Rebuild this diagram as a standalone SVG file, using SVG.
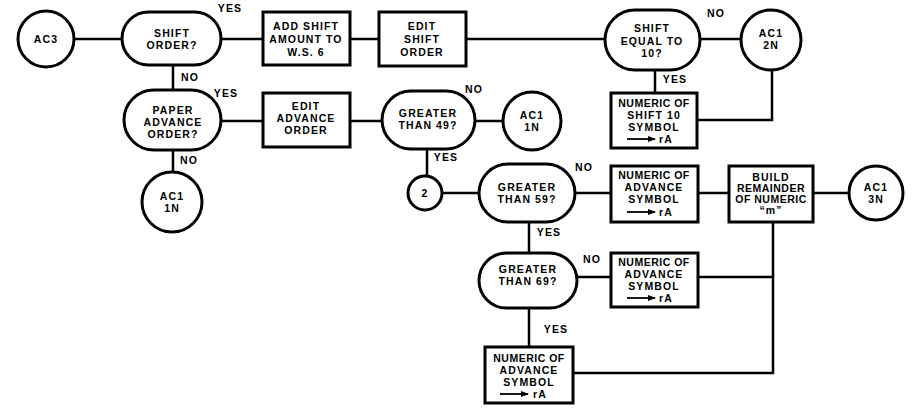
<svg xmlns="http://www.w3.org/2000/svg" width="920" height="409" viewBox="0 0 920 409">
<style>
.s{fill:#fff;stroke:#000;stroke-width:3}
.c{fill:none;stroke:#000;stroke-width:2.5}
text{font-family:"Liberation Sans",Arial,sans-serif;font-weight:700;font-size:10.5px;letter-spacing:1.1px;text-anchor:middle;dominant-baseline:central;fill:#000}
.n{letter-spacing:0.5px}
.ar{stroke:#000;stroke-width:1.8}
</style>
<defs>
<marker id="ah" markerWidth="8" markerHeight="6" refX="7" refY="3" orient="auto" markerUnits="userSpaceOnUse"><polygon points="0,0 8,3 0,6" fill="#000"/></marker>
</defs>
<rect width="920" height="409" fill="#fff"/>
<g id="connectors">
<path class="c" d="M74 39H122M221 39H263M350 39H379M466 39H605M700 39H741M655 70V93M697 120H772V70M173 65V90M173 150V172M221 121H263M350 121H382M475 121H503M427 149V176M442 193H479M575 193H611M698 193H729M813 193H849M529 222V253M577 277H611M529 308V347M698 277H773M773 222V373H573"/>
</g>
<g id="labels">
<text x="230" y="8">YES</text>
<text x="190" y="77">NO</text>
<text x="226" y="93">YES</text>
<text x="189" y="160">NO</text>
<text x="474" y="89">NO</text>
<text x="446" y="157">YES</text>
<text x="716" y="13">NO</text>
<text x="675" y="79">YES</text>
<text x="584" y="167">NO</text>
<text x="549" y="232">YES</text>
<text x="592" y="259">NO</text>
<text x="556" y="329">YES</text>
</g>
<g id="ac3"><circle class="s" cx="46" cy="39" r="28"/><text x="46" y="39">AC3</text></g>
<g id="shift-order"><rect class="s" x="122" y="12" width="99" height="53" rx="26.5"/><text x="172" y="33">SHIFT</text><text x="172" y="45">ORDER?</text></g>
<g id="add-shift"><rect class="s" x="263" y="12" width="87" height="53"/><text x="306" y="26">ADD SHIFT</text><text x="306" y="39">AMOUNT TO</text><text x="306" y="52">W.S. 6</text></g>
<g id="edit-shift"><rect class="s" x="379" y="12" width="87" height="54"/><text x="422" y="26">EDIT</text><text x="422" y="39">SHIFT</text><text x="422" y="52">ORDER</text></g>
<g id="shift-equal"><rect class="s" x="605" y="10" width="95" height="60" rx="30"/><text x="652" y="28">SHIFT</text><text x="652" y="41">EQUAL TO</text><text x="652" y="53">10?</text></g>
<g id="ac1-2n"><circle class="s" cx="771" cy="40" r="30"/><text x="771" y="33">AC1</text><text x="771" y="45">2N</text></g>
<g id="numeric-shift"><rect class="s" x="611" y="93" width="86" height="55"/><text class="n" x="654" y="103">NUMERIC OF</text><text x="654" y="115">SHIFT 10</text><text x="654" y="127">SYMBOL</text><line class="ar" x1="627" y1="139" x2="655" y2="139" marker-end="url(#ah)"/><text x="666" y="139">rA</text></g>
<g id="paper-advance"><rect class="s" x="124" y="90" width="97" height="60" rx="30"/><text x="173" y="110">PAPER</text><text x="173" y="122">ADVANCE</text><text x="173" y="134">ORDER?</text></g>
<g id="ac1-1n-a"><circle class="s" cx="172" cy="202" r="30"/><text x="172" y="196">AC1</text><text x="172" y="208">1N</text></g>
<g id="edit-advance"><rect class="s" x="263" y="93" width="87" height="54"/><text x="306" y="106">EDIT</text><text x="306" y="118">ADVANCE</text><text x="306" y="130">ORDER</text></g>
<g id="greater-49"><rect class="s" x="382" y="91" width="93" height="58" rx="29"/><text x="428" y="113">GREATER</text><text x="428" y="125">THAN 49?</text></g>
<g id="ac1-1n-b"><circle class="s" cx="532" cy="121" r="29"/><text x="532" y="115">AC1</text><text x="532" y="127">1N</text></g>
<g id="conn-2"><circle class="s" cx="425" cy="193" r="17"/><text x="425" y="193">2</text></g>
<g id="greater-59"><rect class="s" x="479" y="164" width="96" height="58" rx="29"/><text x="527" y="187">GREATER</text><text x="527" y="199">THAN 59?</text></g>
<g id="numeric-adv-1"><rect class="s" x="611" y="166" width="87" height="56"/><text class="n" x="654" y="175">NUMERIC OF</text><text x="654" y="187">ADVANCE</text><text x="654" y="199">SYMBOL</text><line class="ar" x1="627" y1="212" x2="655" y2="212" marker-end="url(#ah)"/><text x="666" y="212">rA</text></g>
<g id="build"><rect class="s" x="729" y="166" width="84" height="56"/><text x="771" y="177">BUILD</text><text class="n" x="771" y="188">REMAINDER</text><text class="n" x="771" y="199">OF NUMERIC</text><text x="771" y="210">“m”</text></g>
<g id="ac1-3n"><circle class="s" cx="876" cy="193" r="27"/><text x="876" y="187">AC1</text><text x="876" y="199">3N</text></g>
<g id="greater-69"><rect class="s" x="479" y="253" width="98" height="55" rx="27.5"/><text x="528" y="269">GREATER</text><text x="528" y="281">THAN 69?</text></g>
<g id="numeric-adv-2"><rect class="s" x="611" y="253" width="87" height="54"/><text class="n" x="654" y="262">NUMERIC OF</text><text x="654" y="274">ADVANCE</text><text x="654" y="286">SYMBOL</text><line class="ar" x1="627" y1="298" x2="655" y2="298" marker-end="url(#ah)"/><text x="666" y="298">rA</text></g>
<g id="numeric-adv-3"><rect class="s" x="485" y="347" width="88" height="56"/><text class="n" x="529" y="358">NUMERIC OF</text><text x="529" y="370">ADVANCE</text><text x="529" y="382">SYMBOL</text><line class="ar" x1="500" y1="394" x2="528" y2="394" marker-end="url(#ah)"/><text x="540" y="394">rA</text></g>
</svg>
